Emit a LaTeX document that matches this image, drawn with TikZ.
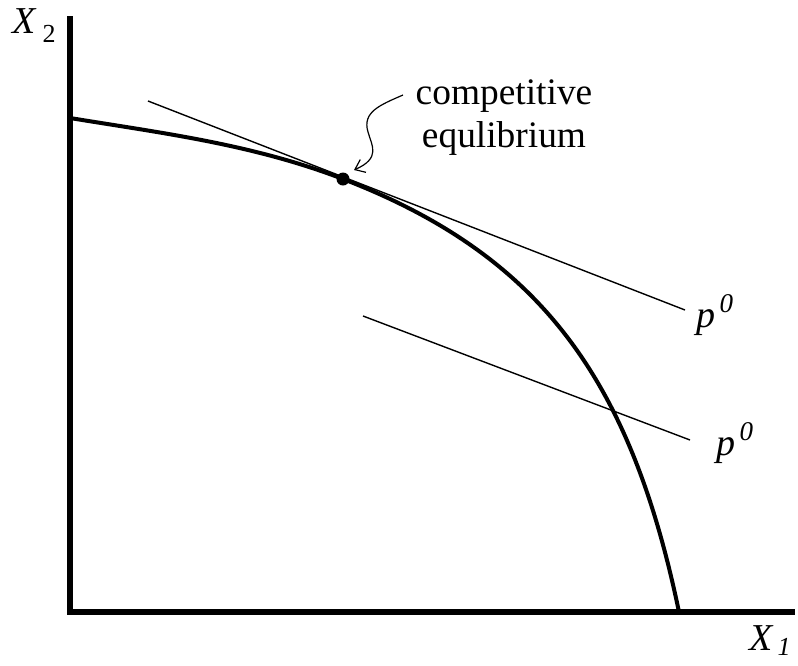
\documentclass[tikz,border=0pt]{standalone}
\usepackage{fontspec}
\setmainfont{Liberation Serif}
\usetikzlibrary{arrows.meta}
\definecolor{ink}{RGB}{0,0,0}
\tikzset{
  every picture/.style={color=ink, line width=0.5pt},
  axisline/.style={line width=3pt, line join=miter},
  frontier/.style={line width=2pt},
  price/.style={line width=0.7pt},
  pointer/.style={-{Straight Barb[length=4.5pt,width=7pt]}, line width=0.6pt},
  lbl/.style={font=\fontsize{19}{19}\selectfont\itshape, inner sep=0pt},
  note/.style={font=\fontsize{18.7}{21.5}\selectfont, align=center, inner sep=0pt},
}

\begin{document}
\begin{tikzpicture}[x=0.5pt, y=-0.5pt]
  \useasboundingbox (0,0) rectangle (798,665);
  % axes
  \coordinate (ytop) at (70,16);
  \coordinate (origin) at (70,612);
  \coordinate (xend) at (795,612);
  \draw[axisline] (ytop) -- (origin) -- (xend);
  \node[lbl, anchor=base west] (xtwo) at (12,33) {X\hspace{3.5pt}\raisebox{-4.5pt}{\fontsize{13}{13}\selectfont\upshape 2}};
  \node[lbl, anchor=base west] (xone) at (749,650) {X\hspace{2.5pt}\raisebox{-2.5pt}{\fontsize{13}{13}\selectfont 1}};
  % production frontier
  \coordinate (fstart) at (70,118);
  \coordinate (fend) at (679,612);
  \node[circle, fill=ink, inner sep=0pt, minimum size=6.5pt] (eq) at (343,179) {};
  \draw[frontier] (fstart) .. controls (161,133) and (252,144) .. (eq.center)
    .. controls (543,256) and (631,382) .. (fend);
  % price lines
  \coordinate (pastart) at (148,101);
  \coordinate (paend) at (685,310);
  \coordinate (pbstart) at (363,316);
  \coordinate (pbend) at (690,440);
  \draw[price] (pastart) -- (paend);
  \draw[price] (pbstart) -- (pbend);
  \node[lbl, anchor=base west] (pa) at (696,327) {p\hspace{2pt}\raisebox{7.5pt}{\fontsize{13.5}{13.5}\selectfont 0}};
  \node[lbl, anchor=base west] (pb) at (716,455) {p\hspace{2pt}\raisebox{7.5pt}{\fontsize{13.5}{13.5}\selectfont 0}};
  % label for the tangency point
  \node[note] (ce) at (504,118) {competitive\\equlibrium};
  \coordinate (cestart) at (403,95);
  \coordinate (cetip) at (354,170);
  \draw[pointer] (cestart) .. controls (380,105) and (362,112) .. (368,132)
    .. controls (372,146) and (381,158) .. (cetip);
\end{tikzpicture}
\end{document}
